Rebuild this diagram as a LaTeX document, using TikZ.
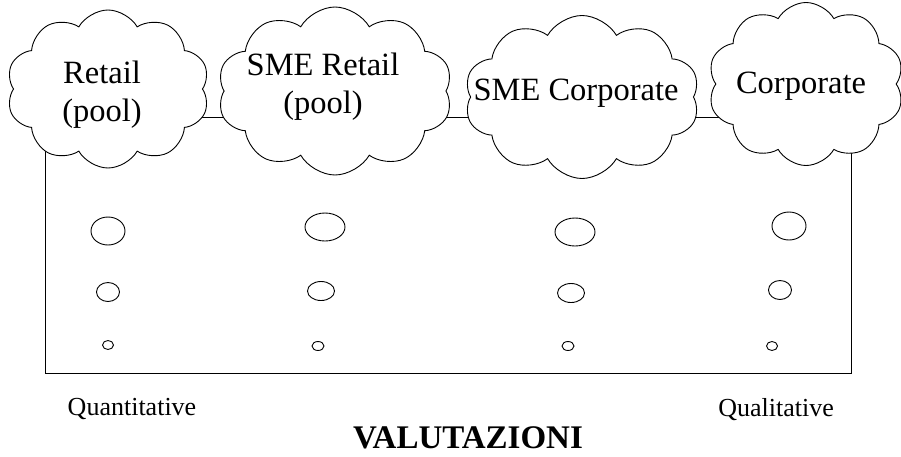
\documentclass[tikz,border=0pt]{standalone}
\usepackage{fontspec}
\setmainfont{Liberation Serif}
\usetikzlibrary{shapes.symbols,shapes.geometric}
\begin{document}
\begin{tikzpicture}[x=1pt,y=-1pt,
  puff/.style={cloud, cloud puffs=10, cloud puff arc=120, cloud ignores aspect, draw=black, fill=white, line width=0.9pt, inner sep=0pt},
  lbl/.style={font=\fontsize{32.5}{38}\selectfont, align=center, inner sep=0pt},
  small/.style={font=\fontsize{26}{28}\selectfont, inner sep=0pt},
  dot/.style={ellipse, draw=black, line width=0.9pt, inner sep=0pt}]
\useasboundingbox (0,0) rectangle (901,456);
\fill[white] (0,0) rectangle (901,456);
% frame
\coordinate (tl) at (45,117);
\coordinate (tr) at (851,117);
\coordinate (br) at (851,373);
\coordinate (bl) at (45,373);
\draw[line width=0.9pt] (tl) -- (tr) -- (br) -- (bl) -- cycle;
% clouds
\node[puff, minimum width=203, minimum height=158] (c1) at (108,89) {};
\node[puff, minimum width=235, minimum height=168] (c2) at (335,91) {};
\node[puff, minimum width=235, minimum height=163] (c3) at (582,97) {};
\node[puff, minimum width=196, minimum height=163] (c4) at (806,84) {};
\node[lbl] (t1) at (102,95) {Retail\\(pool)};
\node[lbl] (t2) at (323,87) {SME Retail\\(pool)};
\node[lbl] (t3) at (576,93) {SME Corporate};
\node[lbl] (t4) at (801,86) {Corporate};
% ellipses
\node[dot, minimum width=34, minimum height=28] (a1) at (108,231) {};
\node[dot, minimum width=23, minimum height=19] (a2) at (108,292) {};
\node[dot, minimum width=11, minimum height=9] (a3) at (108,345) {};
\node[dot, minimum width=40, minimum height=28] (b1) at (325,227) {};
\node[dot, minimum width=27, minimum height=19] (b2) at (321,291) {};
\node[dot, minimum width=12, minimum height=9] (b3) at (318,346) {};
\node[dot, minimum width=40, minimum height=28] (d1) at (575,232) {};
\node[dot, minimum width=27, minimum height=19] (d2) at (571,293) {};
\node[dot, minimum width=12, minimum height=9] (d3) at (568,346) {};
\node[dot, minimum width=34, minimum height=28] (e1) at (789,226) {};
\node[dot, minimum width=23, minimum height=19] (e2) at (780,290) {};
\node[dot, minimum width=11, minimum height=9] (e3) at (772,346) {};
% bottom texts
\node[small] (q1) at (132,409) {Quantitative};
\node[small] (q2) at (776,410) {Qualitative};
\node[font=\fontsize{33}{35}\selectfont\bfseries, inner sep=0pt] (v) at (468,438) {VALUTAZIONI};
\end{tikzpicture}
\end{document}
